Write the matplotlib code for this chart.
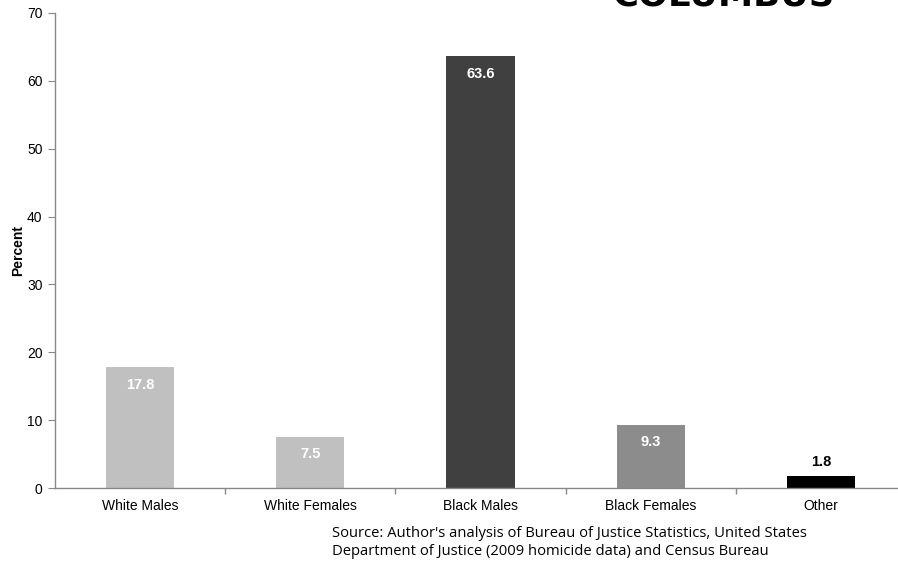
import matplotlib
matplotlib.use("Agg")
import matplotlib.pyplot as plt

categories = ["White Males", "White Females", "Black Males", "Black Females", "Other"]
values = [17.8, 7.5, 63.6, 9.3, 1.8]
bar_colors = ["#c0c0c0", "#c0c0c0", "#404040", "#8c8c8c", "#000000"]
yticks = [0, 10, 20, 30, 40, 50, 60, 70]

plt.rcParams["font.family"] = ["Liberation Sans", "DejaVu Sans"]

W, H = 898, 563
fig = plt.figure(figsize=(W / 100, H / 100), dpi=100)
left, right, top, bottom = 55, 906, 13, 488
ax = fig.add_axes([left / W, 1 - bottom / H, (right - left) / W, (bottom - top) / H])

x = list(range(len(categories)))
ax.bar(x, values, width=0.4, color=bar_colors, zorder=2)

ax.set_xlim(-0.5, len(categories) - 0.5)
ax.set_ylim(0, 70)
ax.set_yticks(yticks)
ax.set_xticks(x)
ax.set_xticklabels(categories, fontsize=10)
ax.tick_params(axis="x", length=0, pad=8)
ax.set_xticks([i + 0.5 for i in x[:-1]], minor=True)
ax.tick_params(axis="x", which="minor", length=4, color="#888888", width=1)
ax.tick_params(axis="y", length=5, color="#888888", labelsize=10, pad=4)

for side in ("top", "right"):
    ax.spines[side].set_visible(False)
for side in ("left", "bottom"):
    ax.spines[side].set_color("#888888")
    ax.spines[side].set_linewidth(1)

ax.set_ylabel("Percent", fontsize=10, fontweight="bold", labelpad=1)

for i, v in enumerate(values):
    if v > 5:
        ax.annotate(f"{v}", (i, v), xytext=(0, -12.5), textcoords="offset points",
                    ha="center", va="center", color="white", fontsize=10.5, fontweight="bold")
    else:
        ax.annotate(f"{v}", (i, v), xytext=(0, 10), textcoords="offset points",
                    ha="center", va="center", color="black", fontsize=10.5, fontweight="bold")

# City name sits at the very top edge of the canvas
fig.text(723 / W, 1 - 6 / H, "COLUMBUS", ha="center", va="baseline",
         fontsize=25.5, fontweight="heavy", family=["DejaVu Sans"])

fig.text(332 / W, 1 - 526 / H,
         "Source: Author's analysis of Bureau of Justice Statistics, United States\n"
         "Department of Justice (2009 homicide data) and Census Bureau",
         ha="left", va="top", fontsize=10.6, family=["Open Sans", "DejaVu Sans"],
         linespacing=1.25)

fig.savefig("out.png", dpi=100)
